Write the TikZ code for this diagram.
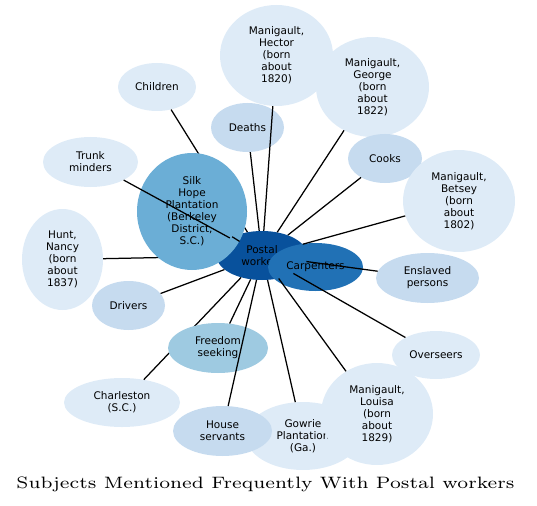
\documentclass[tikz,border=0pt]{standalone}
\usepackage{fontspec}
\usepackage{graphicx}
\newfontfamily\nodefont{DejaVu Sans}
\usetikzlibrary{shapes.geometric}
\definecolor{bA}{HTML}{DEEBF7}
\definecolor{bB}{HTML}{C6DBEF}
\definecolor{bC}{HTML}{9ECAE1}
\definecolor{bD}{HTML}{6BAED6}
\definecolor{bE}{HTML}{2171B5}
\definecolor{bF}{HTML}{08519C}
\tikzset{
 bub/.style 2 args={ellipse, draw=none, inner sep=0pt, minimum width=#1pt, minimum height=#2pt, align=center, font=\nodefont\fontsize{10.5}{12}\selectfont},
 link/.style={line width=1.25pt, black}
}
\begin{document}
\begin{tikzpicture}[x=1pt,y=-1pt]
\useasboundingbox (0,0) rectangle (537,505);
% center node
\node[bub={91}{49}, fill=bF] (pw) at (262,255.5) {Postal\\workers};
% nodes whose edges lie underneath other nodes
\node[bub={78}{48}, fill=bA] (children) at (157,87) {Children};
\node[bub={81}{101}, fill=bA] (nancy) at (62.5,259.5) {Hunt,\\Nancy\\(born\\about\\1837)};
\node[bub={116}{49}, fill=bA] (charleston) at (122,402.5) {Charleston\\(S.C.)};
% edges drawn below later nodes
\draw[link] (pw) -- (children);
\draw[link] (pw) -- (nancy);
\draw[link] (pw) -- (charleston);
\node[bub={110}{117}, fill=bD] (silk) at (192,211.5) {Silk\\Hope\\Plantation\\(Berkeley\\District,\\S.C.)};
\draw[link] (pw) -- (silk);
\node[bub={95}{48}, fill=bE] (carp) at (315.5,267) {Carpenters};
\node[bub={100}{50}, fill=bC] (freedom) at (218,348) {Freedom\\seeking};
% other nodes
\node[bub={113}{101}, fill=bA] (hector) at (276.5,55.5) {Manigault,\\Hector\\(born\\about\\1820)};
\node[bub={113}{100}, fill=bA] (george) at (372.5,87) {Manigault,\\George\\(born\\about\\1822)};
\node[bub={73}{49}, fill=bB] (deaths) at (247.5,127.5) {Deaths};
\node[bub={74}{49}, fill=bB] (cooks) at (385,158.5) {Cooks};
\node[bub={112}{102}, fill=bA] (betsey) at (459,201) {Manigault,\\Betsey\\(born\\about\\1802)};
\node[bub={95}{50}, fill=bA] (trunk) at (90.5,162) {Trunk\\minders};
\node[bub={103}{50}, fill=bB] (enslaved) at (427.5,278) {Enslaved\\persons};
\node[bub={73}{49}, fill=bB] (drivers) at (128.5,305.5) {Drivers};
\node[bub={88}{48}, fill=bA] (overseers) at (436,355) {Overseers};
\node[bub={114}{68}, fill=bA] (gowrie) at (303,436) {Gowrie\\Plantation\\(Ga.)};
\node[bub={99}{50}, fill=bB] (house) at (222.5,431) {House\\servants};
\node[bub={112}{102}, fill=bA] (louisa) at (377,414) {Manigault,\\Louisa\\(born\\about\\1829)};
% edges on top
\draw[link] (pw) -- (hector);
\draw[link] (pw) -- (george);
\draw[link] (pw) -- (deaths);
\draw[link] (pw) -- (cooks);
\draw[link] (pw) -- (betsey);
\draw[link] (pw) -- (trunk);
\draw[link] (pw) -- (enslaved);
\draw[link] (pw) -- (drivers);
\draw[link] (pw) -- (overseers);
\draw[link] (pw) -- (freedom);
\draw[link] (pw) -- (house);
\draw[link] (pw) -- (gowrie);
\draw[link] (pw) -- (louisa);
% title
\node[anchor=base, inner sep=0pt] (title) at (265.5,488.5) {\resizebox{498pt}{11.6pt}{\fontsize{7}{8}\selectfont Subjects Mentioned Frequently With Postal workers}};
\end{tikzpicture}
\end{document}
